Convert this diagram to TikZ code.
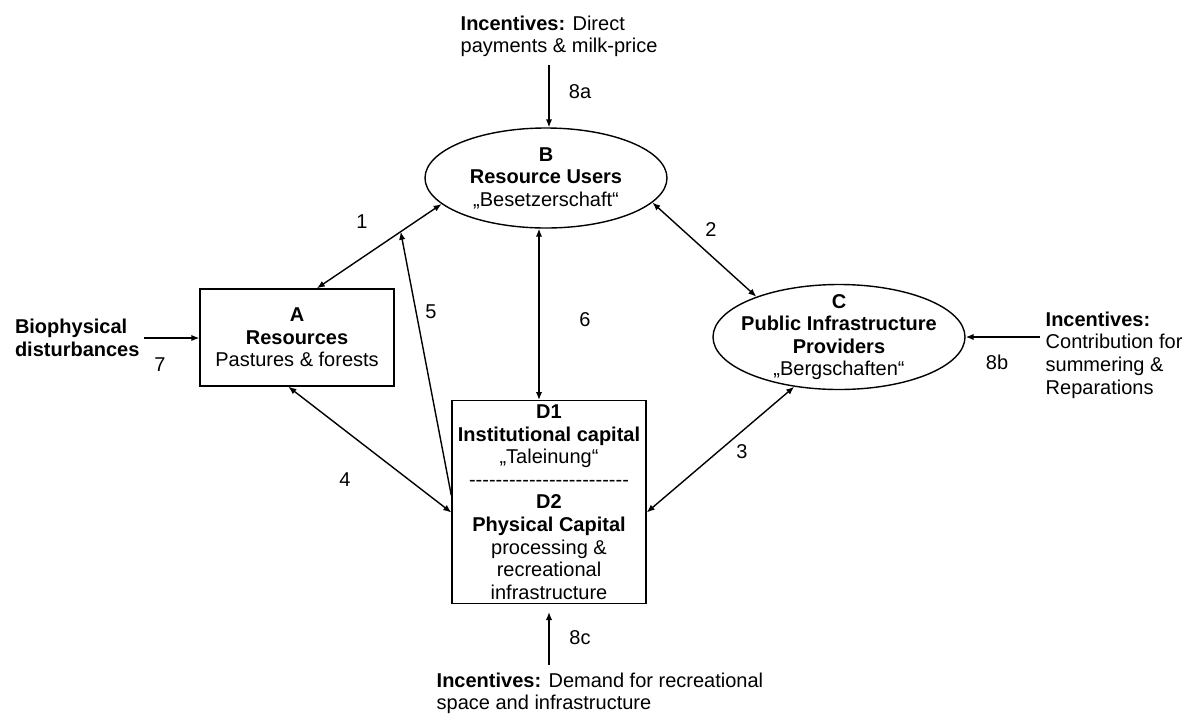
\documentclass[tikz,border=0pt]{standalone}
\usepackage{fontspec}
\setmainfont{Liberation Sans}
\usetikzlibrary{shapes.geometric,arrows.meta,calc}

\newcommand{\hyphenline}{\foreach \i in {1,...,24}{-\kern0pt}}

\begin{document}
\begin{tikzpicture}[x=0.5pt,y=-0.5pt,line width=0.7pt,>={Latex[length=4pt,width=3.2pt]},every node/.style={font=\fontsize{10pt}{11.3pt}\selectfont},box/.style={rectangle,draw,align=center,inner sep=0pt},oval/.style={ellipse,draw,align=center,inner sep=-8pt},txt/.style={align=left,inner sep=0pt},num/.style={inner sep=0pt}]
\useasboundingbox (0,0) rectangle (1194,713);
\node[oval,minimum width=121pt,minimum height=50pt] (B) at (546,178) {\textbf{B}\\\textbf{Resource Users}\\„Besetzerschaft“};
\node[oval,minimum width=126pt,minimum height=52.5pt] (C) at (839,337) {\textbf{C}\\\textbf{Public Infrastructure}\\\textbf{Providers}\\„Bergschaften“};
\node[box,minimum width=97pt,minimum height=48.5pt] (A) at (297,337.5) {\textbf{A}\\\textbf{Resources}\\Pastures \& forests};
\node[box,minimum width=97pt,minimum height=101.5pt,anchor=north] (D) at (549,400) {\textbf{D1}\\\textbf{Institutional capital}\\„Taleinung“\\\hyphenline\\\textbf{D2}\\\textbf{Physical Capital}\\processing \&\\recreational\\infrastructure};
\node[txt,anchor=north west] (inB) at (460,15) {\textbf{Incentives:} Direct\\payments \& milk-price};
\node[txt,anchor=north west] (inC) at (1045,311) {\textbf{Incentives:}\\Contribution for\\summering \&\\Reparations};
\node[txt,anchor=north west] (inD) at (436,672) {\textbf{Incentives:} Demand for recreational\\space and infrastructure};
\node[txt,anchor=west,outer sep=2.5pt] (bio) at (10,338) {\textbf{Biophysical}\\\textbf{disturbances}};
\coordinate (s8a) at (549,65);
\coordinate (s8b) at (1040,337);
\coordinate (s8c) at (549,665);
\coordinate (e8c) at (549,612);
\coordinate (d6) at ([xshift=-5pt]D.north);
\coordinate (m5) at ($(A.68)!0.672!(B.194)$);
\draw[<->] (A.68) -- (B.194);
\draw[<->] (B.347) -- (C.154);
\draw[<->] (C.228) -- (D.354);
\draw[<->] (A.260) -- (D.186);
\draw[->] (D.176) -- (m5);
\draw[<->] (B.south -| d6) -- (d6);
\draw[->] (bio.east) -- (bio.east -| A.west);
\draw[->] (s8a) -- (s8a |- B.north);
\draw[->] (s8b) -- (C.east);
\draw[->] (s8c) -- (e8c);
\node[num] (n1) at (362,222) {1};
\node[num] (n2) at (711,230) {2};
\node[num] (n3) at (742,452) {3};
\node[num] (n4) at (345,480) {4};
\node[num] (n5) at (431,312) {5};
\node[num] (n6) at (585,320) {6};
\node[num] (n7) at (160,365) {7};
\node[num] (n8a) at (580,92) {8a};
\node[num] (n8b) at (997,362) {8b};
\node[num] (n8c) at (580,638) {8c};
\end{tikzpicture}
\end{document}
